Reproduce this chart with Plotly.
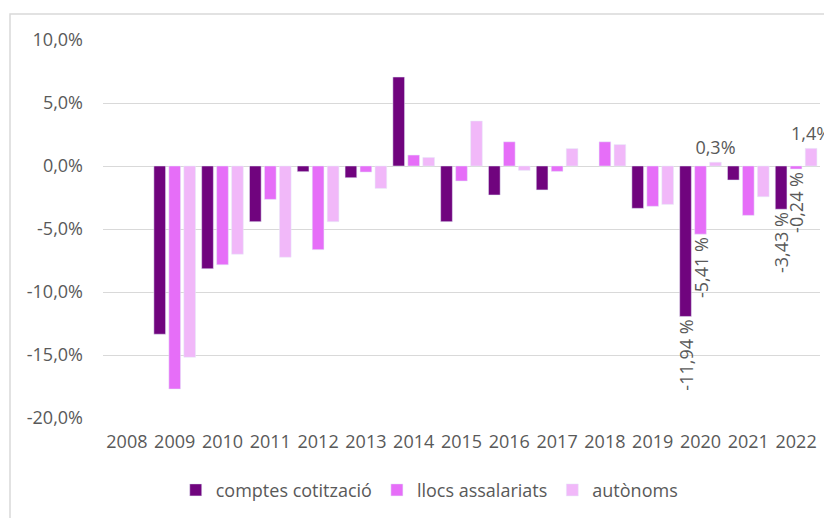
import plotly.graph_objects as go

years = [str(y) for y in range(2008, 2023)]

# variació anual (%)
comptes = [None, -13.35, -8.15, -4.42, -0.45, -0.93, 7.06, -4.42, -2.30, -1.90, None, -3.36, -11.94, -1.11, -3.43]
llocs = [None, -17.70, -7.84, -2.65, -6.64, -0.48, 0.87, -1.19, 1.92, -0.43, 1.92, -3.20, -5.41, -3.92, -0.24]
autonoms = [None, -15.18, -7.00, -7.24, -4.42, -1.78, 0.68, 3.57, -0.35, 1.38, 1.70, -3.05, 0.30, -2.44, 1.40]

tick_vals = [10, 5, 0, -5, -10, -15, -20]
tick_labels = ["10,0%", "5,0%", "0,0%", "-5,0%", "-10,0%", "-15,0%", "-20,0%"]

comptes_txt = ["" for _ in years]
llocs_txt = ["" for _ in years]
autonoms_txt = ["" for _ in years]
comptes_txt[years.index("2020")] = "-11,94 %"
comptes_txt[years.index("2022")] = "-3,43 %"
llocs_txt[years.index("2020")] = "-5,41 %"
llocs_txt[years.index("2022")] = "-0,24 %"
autonoms_txt[years.index("2020")] = "0,3%"
autonoms_txt[years.index("2022")] = "1,4%"

font = "'Open Sans', sans-serif"
grey = "#595959"
fsize = 18

fig = go.Figure()
series = [
    ("comptes cotització", comptes, comptes_txt, "#70047E", -90),
    ("llocs assalariats", llocs, llocs_txt, "#E66EF8", -90),
    ("autònoms", autonoms, autonoms_txt, "#F1B8F9", 0),
]
for name, vals, txt, col, ang in series:
    fig.add_trace(go.Bar(
        x=years, y=vals, name=name, marker_color=col,
        text=txt, textposition="outside", textangle=ang,
        constraintext="none", cliponaxis=False,
        textfont=dict(family=font, size=fsize, color=grey),
    ))

# marc exterior del gràfic
fig.add_shape(type="rect", xref="paper", yref="paper",
              x0=-0.1297, y0=-0.5, x1=1.05, y1=1.0688,
              line=dict(color="#D9D9D9", width=1.5), layer="below")

# la pàgina té 8px de marge al body
fig.update_layout(
    width=832, height=518,
    margin=dict(l=95, r=20, t=32, b=108),
    paper_bgcolor="white", plot_bgcolor="white",
    barmode="group", bargap=0.06, bargroupgap=0.22,
    font=dict(family=font, size=fsize, color=grey),
    showlegend=True,
    legend=dict(orientation="h", x=0.455, xanchor="center", y=-0.142, yanchor="top",
                font=dict(size=fsize, color=grey), itemwidth=30),
)
fig.update_yaxes(range=[-20, 10], tickvals=tick_vals, ticktext=tick_labels,
                 showgrid=True, gridcolor="#D9D9D9",
                 gridwidth=1, zeroline=True, zerolinecolor="#D9D9D9", zerolinewidth=1,
                 ticks="", showline=False, ticklabelstandoff=19,
                 tickfont=dict(size=fsize, color=grey))
fig.update_xaxes(showgrid=False, ticks="", showline=False, ticklabelstandoff=11,
                 tickfont=dict(size=fsize, color=grey))

fig.write_html("out.html")
